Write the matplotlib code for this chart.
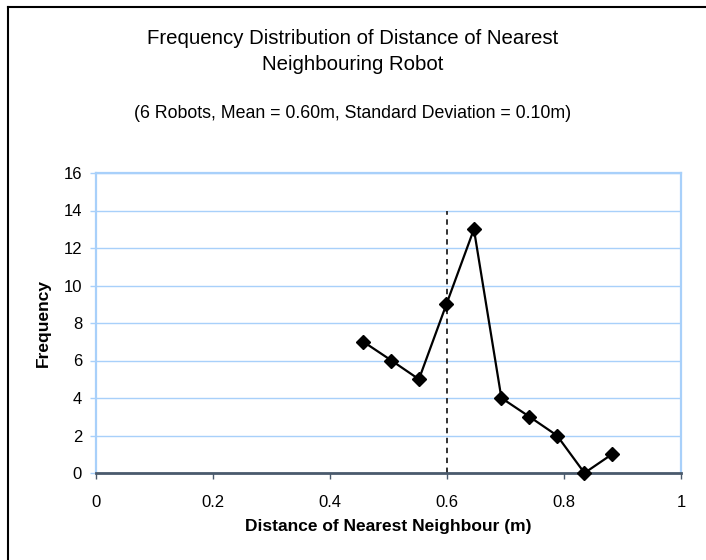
import matplotlib.pyplot as plt
from matplotlib.lines import Line2D

plt.rcParams['font.family'] = ['Liberation Sans', 'DejaVu Sans']

# distance of nearest neighbour (m) and how often it occurred
distance = [0.457, 0.505, 0.552, 0.599, 0.646, 0.693, 0.741, 0.788, 0.835, 0.882]
frequency = [7, 6, 5, 9, 13, 4, 3, 2, 0, 1]
mean_distance = 0.60
mean_line_top = 14

title = 'Frequency Distribution of Distance of Nearest\nNeighbouring Robot'
subtitle = '(6 Robots, Mean = 0.60m, Standard Deviation = 0.10m)'

grid_blue = '#a8d0fa'
axis_dark = '#4a5a6c'

W, H = 706, 560
fig = plt.figure(figsize=(W / 100, H / 100), dpi=100)
ax = fig.add_axes([96 / W, 1 - 473 / H, 585 / W, 300 / H])

# light gridlines behind everything
ax.set_axisbelow(True)
ax.grid(axis='y', color=grid_blue, linewidth=1.0)

ax.plot([mean_distance, mean_distance], [0, mean_line_top], color='#222222',
        linestyle=(0, (3, 2.5)), linewidth=1.3, zorder=2)
ax.plot(distance, frequency, color='black', linewidth=1.6, marker='D',
        markersize=7, markerfacecolor='black', zorder=3, clip_on=False)

ax.set_xlim(0, 1)
ax.set_ylim(0, 16)
ax.set_xticks([0, 0.2, 0.4, 0.6, 0.8, 1])
ax.set_xticklabels(['0', '0.2', '0.4', '0.6', '0.8', '1'])
ax.set_yticks(range(0, 17, 2))

for side in ['left', 'right', 'top']:
    ax.spines[side].set_color(grid_blue)
    ax.spines[side].set_linewidth(1.6)
ax.spines['bottom'].set_color(axis_dark)
ax.spines['bottom'].set_linewidth(2)
ax.spines['bottom'].set_zorder(2.5)

ax.tick_params(axis='x', direction='out', length=4, width=1, color=axis_dark,
               labelsize=12, pad=12)
ax.tick_params(axis='y', direction='out', length=4, width=1, color=grid_blue,
               labelsize=12, pad=6)

ax.set_xlabel('Distance of Nearest Neighbour (m)', fontsize=12.5,
              fontweight='bold', labelpad=6)
ax.set_ylabel('Frequency', fontsize=12.5, fontweight='bold', labelpad=9)

# title lines and subtitle, placed by baseline
for line, base in zip(title.split('\n'), [44, 70]):
    fig.text(0.5, 1 - base / H, line, ha='center', va='baseline', fontsize=14.7)
fig.text(0.5, 1 - 118 / H, subtitle, ha='center', va='baseline', fontsize=12.8)

# chart frame (cropped on the right and bottom)
fig.add_artist(Line2D([8 / W, 8 / W], [0, 1 - 7 / H], color='black',
                      linewidth=1.5, transform=fig.transFigure))
fig.add_artist(Line2D([8 / W, 1], [1 - 7 / H, 1 - 7 / H], color='black',
                      linewidth=1.5, transform=fig.transFigure))

fig.savefig('out.png', dpi=100)
